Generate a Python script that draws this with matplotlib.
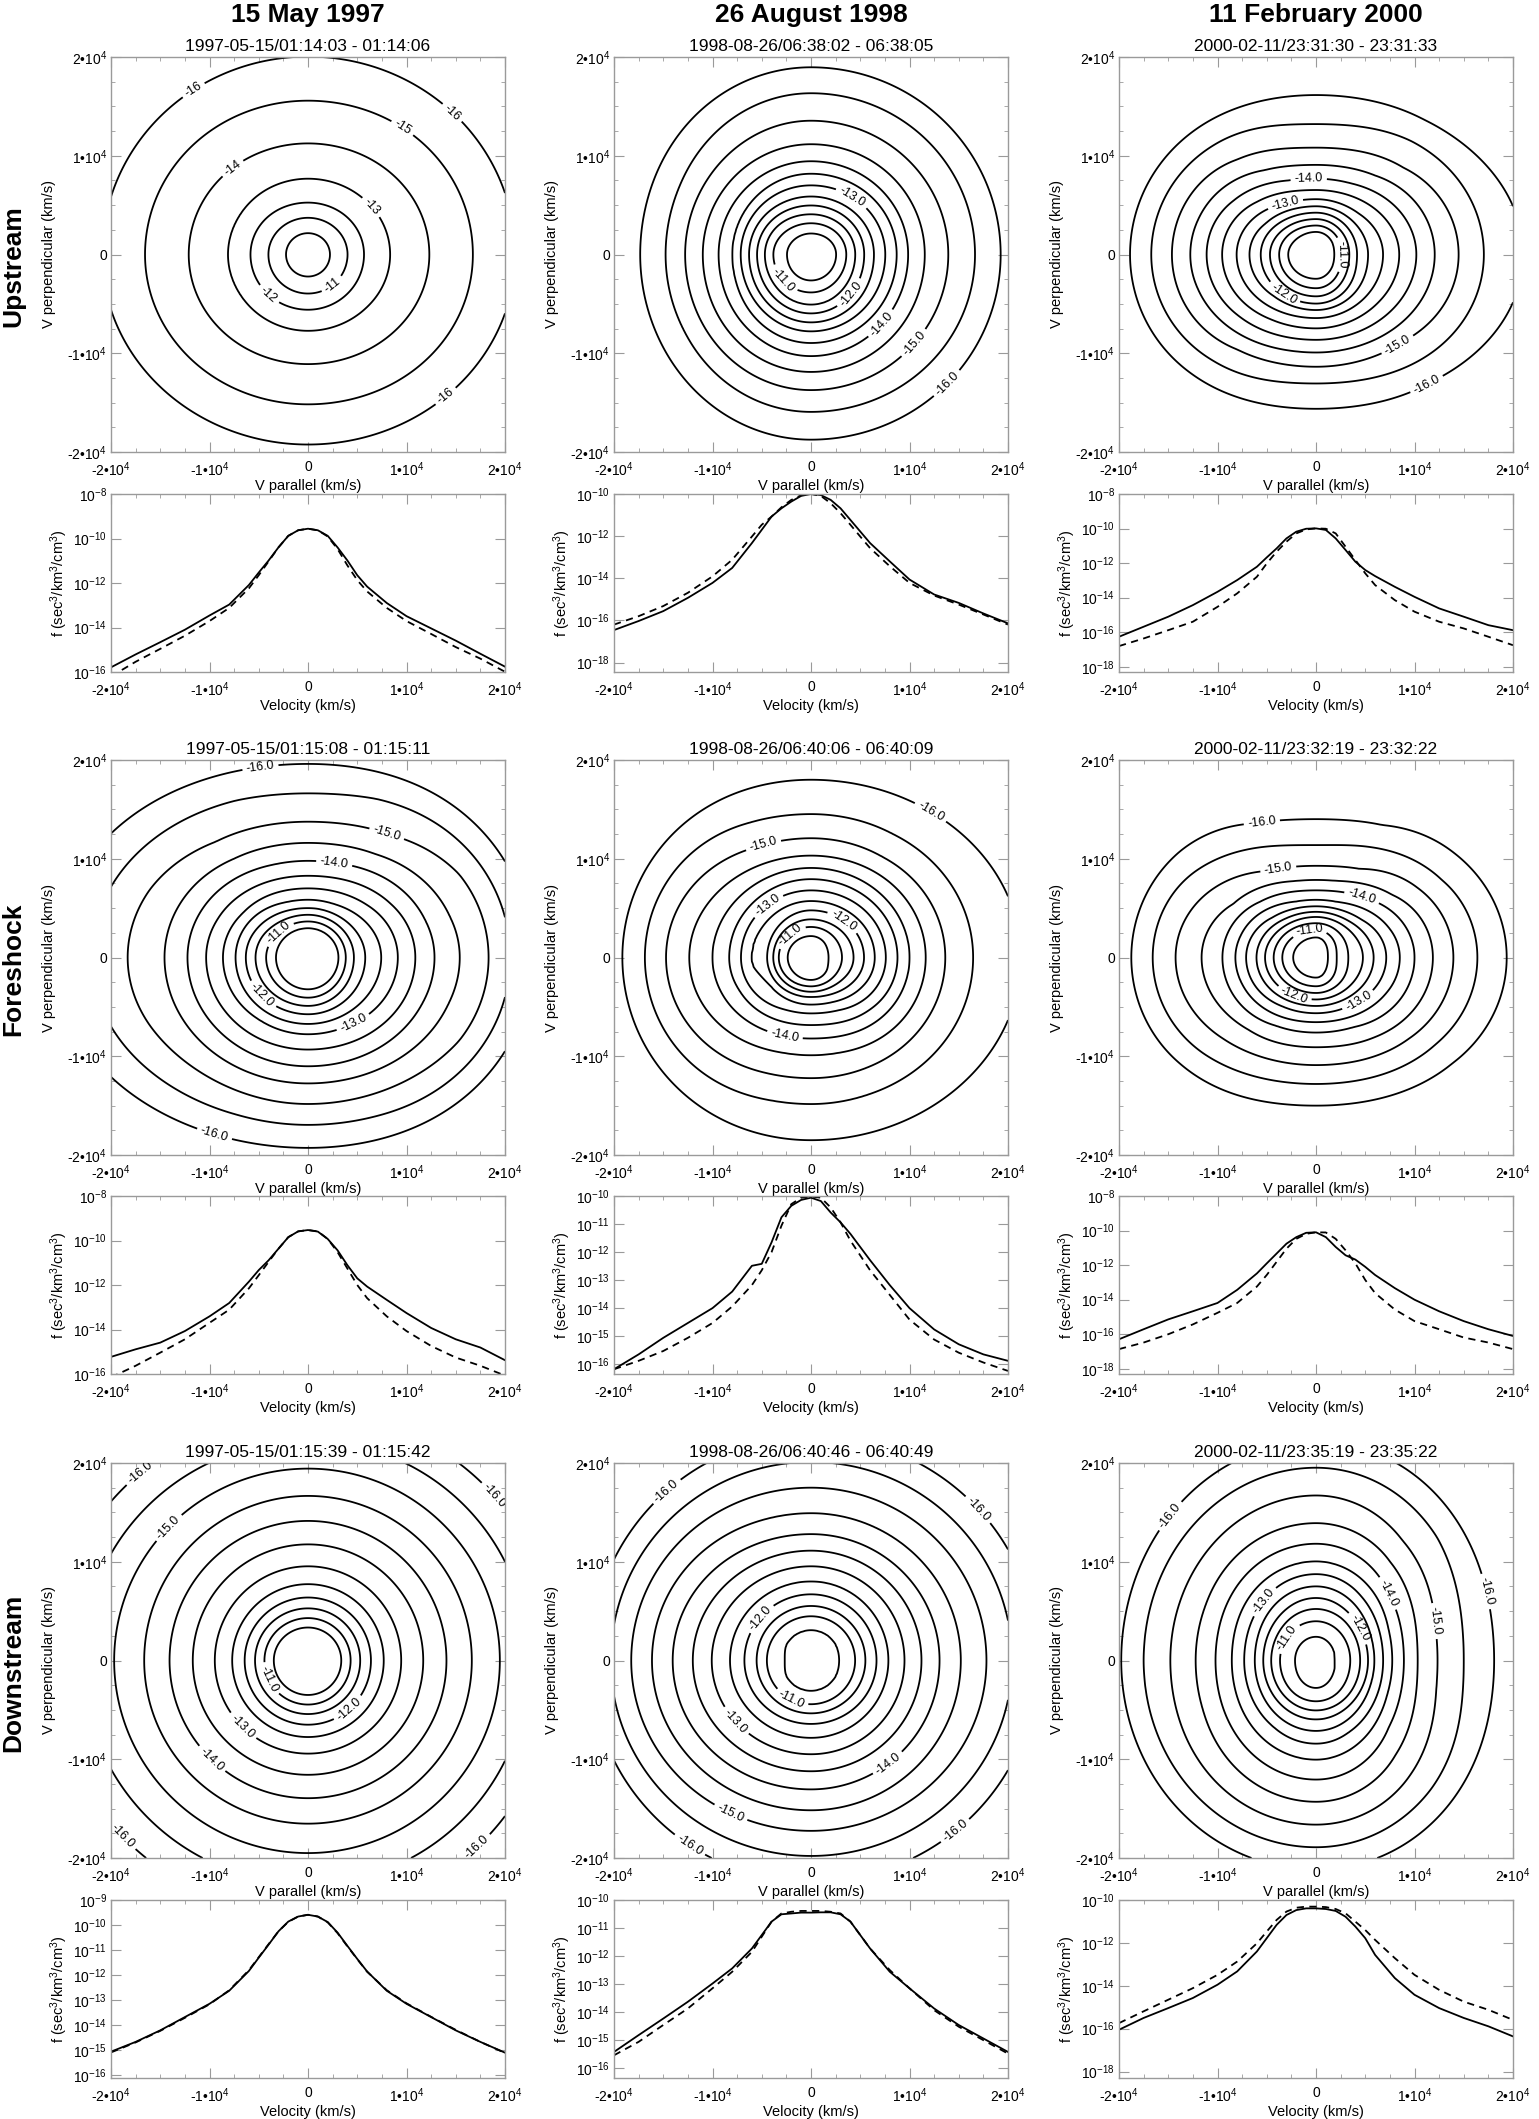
import numpy as np
import matplotlib
matplotlib.use("Agg")
import matplotlib.pyplot as plt

plt.rcParams.update({
    "font.family": ["Liberation Sans", "DejaVu Sans"],
    "mathtext.fontset": "custom",
    "mathtext.rm": "Liberation Sans",
    "mathtext.it": "Liberation Sans",
    "mathtext.default": "regular",
    "axes.edgecolor": "#9a9a9a",
    "axes.linewidth": 1.0,
})

# velocity nodes (km/s) of the cuts, log10 f
V_NODES = [-20000, -17500, -15000, -12500, -10000, -8000, -6000, -5000, -4000, -3000, -2000, -1000, 0,
           1000, 2000, 3000, 4000, 5000, 6000, 8000, 10000, 12500, 15000, 17500, 20000]

# upstream
up97_par = [-15.79, -15.21, -14.66, -14.10, -13.46, -12.97, -12.09, -11.53, -10.99, -10.40, -9.88, -9.63, -9.56,
            -9.63, -9.88, -10.40, -10.99, -11.65, -12.16, -12.90, -13.49, -14.04, -14.59, -15.18, -15.76]
up97_perp = [-16.20, -15.54, -14.96, -14.37, -13.71, -13.12, -12.24, -11.65, -11.03, -10.40, -9.88, -9.63, -9.56,
             -9.63, -9.91, -10.47, -11.21, -11.87, -12.38, -13.12, -13.71, -14.29, -14.88, -15.40, -15.99]
up98_par = [-16.46, -16.03, -15.56, -14.93, -14.22, -13.51, -12.33, -11.70, -11.07, -10.68, -10.36, -10.09, -10.00,
            -10.05, -10.28, -10.68, -11.23, -11.78, -12.33, -13.20, -14.06, -14.77, -15.17, -15.67, -16.14]
up98_perp = [-16.20, -15.80, -15.32, -14.69, -13.91, -13.12, -12.02, -11.46, -11.07, -10.63, -10.28, -10.06, -10.00,
             -10.09, -10.44, -10.91, -11.46, -12.02, -12.57, -13.43, -14.22, -14.82, -15.25, -15.72, -16.20]
up00_par = [-16.26, -15.68, -15.10, -14.43, -13.66, -12.98, -12.21, -11.67, -11.15, -10.57, -10.18, -10.01, -9.99,
            -10.08, -10.57, -11.24, -11.92, -12.40, -12.75, -13.37, -13.95, -14.62, -15.10, -15.59, -15.88]
up00_perp = [-16.80, -16.36, -15.88, -15.39, -14.53, -13.75, -12.79, -12.02, -11.34, -10.76, -10.28, -10.05, -9.99,
             -10.01, -10.28, -11.05, -11.82, -12.59, -13.27, -14.14, -14.81, -15.39, -15.78, -16.26, -16.75]

# foreshock
fs97_par = [-15.23, -14.89, -14.59, -14.07, -13.41, -12.81, -11.85, -11.33, -10.89, -10.37, -9.85, -9.59, -9.53,
            -9.60, -9.93, -10.44, -11.11, -11.70, -12.07, -12.67, -13.26, -13.93, -14.44, -14.81, -15.38]
fs97_perp = [-16.15, -15.63, -15.04, -14.44, -13.70, -13.11, -12.15, -11.56, -10.96, -10.37, -9.85, -9.59, -9.53,
             -9.59, -9.93, -10.52, -11.26, -12.00, -12.59, -13.41, -14.07, -14.74, -15.26, -15.63, -16.07]
fs98_par = [-16.18, -15.65, -15.06, -14.53, -14.00, -13.41, -12.49, -12.42, -11.65, -10.76, -10.35, -10.14, -10.06,
            -10.18, -10.59, -10.94, -11.35, -11.82, -12.29, -13.18, -14.00, -14.76, -15.29, -15.65, -15.88]
fs98_perp = [-16.18, -15.88, -15.53, -15.06, -14.53, -13.94, -13.18, -12.65, -12.00, -11.06, -10.29, -10.06, -10.02,
             -10.06, -10.41, -10.94, -11.59, -12.12, -12.65, -13.53, -14.41, -15.12, -15.59, -15.94, -16.24]
fs00_par = [-16.29, -15.71, -15.14, -14.67, -14.19, -13.43, -12.48, -11.90, -11.33, -10.76, -10.38, -10.13, -10.10,
            -10.38, -10.95, -11.43, -11.68, -12.10, -12.57, -13.33, -14.00, -14.67, -15.24, -15.71, -16.10]
fs00_perp = [-16.86, -16.48, -16.00, -15.43, -14.76, -14.19, -13.24, -12.57, -11.81, -11.05, -10.48, -10.19, -10.10,
             -10.11, -10.48, -11.14, -11.90, -12.86, -13.62, -14.57, -15.24, -15.71, -16.19, -16.48, -16.86]

# downstream
ds97_par = [-15.05, -14.66, -14.20, -13.67, -13.14, -12.62, -11.83, -11.30, -10.78, -10.25, -9.86, -9.66, -9.59,
            -9.66, -9.88, -10.30, -10.83, -11.35, -11.85, -12.62, -13.14, -13.67, -14.20, -14.66, -15.09]
ds97_perp = [-15.08, -14.68, -14.22, -13.70, -13.16, -12.60, -11.80, -11.28, -10.76, -10.25, -9.87, -9.66, -9.59,
             -9.66, -9.89, -10.32, -10.85, -11.36, -11.86, -12.60, -13.12, -13.66, -14.18, -14.66, -15.10]
ds98_par = [-15.42, -14.82, -14.23, -13.63, -12.98, -12.44, -11.73, -11.25, -10.77, -10.51, -10.48, -10.45, -10.45,
            -10.44, -10.44, -10.51, -10.77, -11.25, -11.73, -12.56, -13.15, -13.87, -14.46, -14.94, -15.42]
ds98_perp = [-15.54, -15.06, -14.46, -13.87, -13.15, -12.56, -11.85, -11.31, -10.77, -10.48, -10.42, -10.39, -10.39,
             -10.39, -10.42, -10.48, -10.77, -11.25, -11.73, -12.50, -13.15, -13.93, -14.52, -15.00, -15.48]
ds00_par = [-16.05, -15.50, -15.04, -14.57, -13.95, -13.33, -12.40, -11.78, -11.16, -10.70, -10.47, -10.39, -10.39,
            -10.42, -10.51, -10.78, -11.24, -11.78, -12.56, -13.64, -14.42, -15.04, -15.50, -15.89, -16.36]
ds00_perp = [-15.74, -15.19, -14.65, -14.11, -13.49, -12.87, -12.02, -11.47, -10.93, -10.54, -10.36, -10.31, -10.31,
             -10.33, -10.42, -10.62, -11.01, -11.40, -11.86, -12.71, -13.49, -14.19, -14.74, -15.12, -15.59]

COL_TITLES = ["15 May 1997", "26 August 1998", "11 February 2000"]
ROW_NAMES = ["Upstream", "Foreshock", "Downstream"]
TIME_RANGES = [
    ["1997-05-15/01:14:03 - 01:14:06", "1998-08-26/06:38:02 - 06:38:05", "2000-02-11/23:31:30 - 23:31:33"],
    ["1997-05-15/01:15:08 - 01:15:11", "1998-08-26/06:40:06 - 06:40:09", "2000-02-11/23:32:19 - 23:32:22"],
    ["1997-05-15/01:15:39 - 01:15:42", "1998-08-26/06:40:46 - 06:40:49", "2000-02-11/23:35:19 - 23:35:22"],
]
CUTS = [
    [(up97_par, up97_perp), (up98_par, up98_perp), (up00_par, up00_perp)],
    [(fs97_par, fs97_perp), (fs98_par, fs98_perp), (fs00_par, fs00_perp)],
    [(ds97_par, ds97_perp), (ds98_par, ds98_perp), (ds00_par, ds00_perp)],
]
# log axis range (low, high, label step) for each line panel
LOG_RANGE = [
    [(-16.0, -8, 2), (-18.45, -10, 2), (-18.3, -8, 2)],
    [(-16.0, -8, 2), (-16.35, -10, 1), (-18.3, -8, 2)],
    [(-16.1, -9, 1), (-16.35, -10, 1), (-18.3, -10, 2)],
]

V_TICKS = [-20000, -10000, 0, 10000, 20000]
V_TICKLABELS = ["-2\u202210$^4$", "-1\u202210$^4$", "0", "1\u202210$^4$", "2\u202210$^4$"]

W, H = 1539, 2119
COL_LEFT = [111, 614, 1119]
AX_W = 394
CONT_TOP = [57, 760, 1463]
CONT_H = 395
LINE_TOP = [494, 1196, 1900]
LINE_H = 178
GREY = "#9a9a9a"

fig = plt.figure(figsize=(W / 100, H / 100), dpi=100)


def rect(left, top, w, h):
    return [left / W, 1 - (top + h) / H, w / W, h / H]


def cut(v, vals):
    # values along one cut, carried on linearly past the last node
    nodes = np.asarray(V_NODES, float)
    vals = np.asarray(vals, float)
    out = np.interp(v, nodes, vals)
    lo = v < nodes[0]
    hi = v > nodes[-1]
    out[lo] = vals[0] + (v[lo] - nodes[0]) * (vals[1] - vals[0]) / (nodes[1] - nodes[0])
    out[hi] = vals[-1] + (v[hi] - nodes[-1]) * (vals[-1] - vals[-2]) / (nodes[-1] - nodes[-2])
    return out


def style_axes(ax):
    for s in ax.spines.values():
        s.set_color(GREY)
    ax.tick_params(which="both", direction="in", top=True, right=True, color=GREY,
                   labelsize=10, pad=3)
    ax.tick_params(which="major", length=7)
    ax.tick_params(which="minor", length=3)
    ax.tick_params(axis="x", pad=6)


g = np.linspace(-20000, 20000, 241)
VX, VY = np.meshgrid(g, g)
R = np.hypot(VX, VY)
C2 = np.where(R > 0, VX ** 2 / np.where(R > 0, R, 1) ** 2, 0.5)

for i in range(3):
    for j in range(3):
        par, perp = CUTS[i][j]

        # contour panel
        ax = fig.add_axes(rect(COL_LEFT[j], CONT_TOP[i], AX_W, CONT_H))
        field = C2 * cut(np.where(VX >= 0, R, -R), par) + (1 - C2) * cut(np.where(VY >= 0, R, -R), perp)
        if i == 0 and j == 0:
            levels = np.arange(-16, -9.5, 1.0)
            fmt = "%d"
        else:
            levels = np.arange(-16, -10.25, 0.5)
            fmt = "%.1f"
        cs = ax.contour(VX, VY, field, levels=levels, colors="black", linewidths=1.3,
                        linestyles="solid")
        ax.clabel(cs, levels=[l for l in cs.levels if l % 1 == 0 and l < -10.5], fmt=fmt, fontsize=9,
                  inline=True, inline_spacing=4)
        ax.set_xlim(-20000, 20000)
        ax.set_ylim(-20000, 20000)
        ax.set_xticks(V_TICKS, V_TICKLABELS)
        ax.set_yticks(V_TICKS, V_TICKLABELS)
        ax.set_xticks(np.arange(-20000, 20001, 2500), minor=True)
        ax.set_yticks(np.arange(-20000, 20001, 2500), minor=True)
        style_axes(ax)
        ax.set_xlabel("V parallel (km/s)", fontsize=10.5, labelpad=0)
        ax.set_ylabel("V perpendicular (km/s)", fontsize=10.5, labelpad=8)
        ax.set_title(TIME_RANGES[i][j], fontsize=12.5, pad=4)

        # cut panel
        lx = fig.add_axes(rect(COL_LEFT[j], LINE_TOP[i], AX_W, LINE_H))
        lx.plot(V_NODES, 10.0 ** np.asarray(par), color="black", lw=1.3)
        lx.plot(V_NODES, 10.0 ** np.asarray(perp), color="black", lw=1.3, ls=(0, (4, 3)))
        lo, hi, step = LOG_RANGE[i][j]
        lx.set_yscale("log")
        lx.set_ylim(10.0 ** lo, 10.0 ** hi)
        decs = np.arange(hi, np.ceil(lo) - 1, -step)
        decs = decs[decs >= lo - 1e-9]
        lx.set_yticks(10.0 ** decs, ["10$^{%d}$" % d for d in decs])
        lx.yaxis.set_minor_locator(matplotlib.ticker.NullLocator())
        lx.set_xlim(-20000, 20000)
        lx.set_xticks(V_TICKS, V_TICKLABELS)
        lx.set_xticks(np.arange(-20000, 20001, 2500), minor=True)
        style_axes(lx)
        lx.set_xlabel("Velocity (km/s)", fontsize=10.5, labelpad=0)
        lx.set_ylabel("f (sec$^3$/km$^3$/cm$^3$)", fontsize=10.5, labelpad=2)

for j, title in enumerate(COL_TITLES):
    fig.text((COL_LEFT[j] + AX_W / 2) / W, 1 - 15 / H, title, fontsize=19, fontweight="bold",
             ha="center", va="center")

for i, name in enumerate(ROW_NAMES):
    fig.text(13 / W, 1 - (CONT_TOP[i] + CONT_H / 2 + 12) / H, name, fontsize=19, fontweight="bold",
             rotation=90, ha="center", va="center")

fig.savefig("out.png", dpi=100, facecolor="white")
